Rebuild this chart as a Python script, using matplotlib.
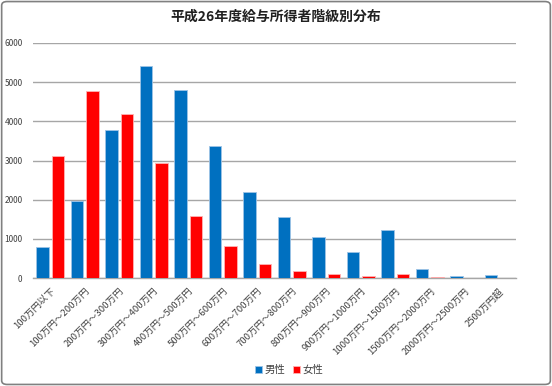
import matplotlib
matplotlib.use("Agg")
import matplotlib.pyplot as plt
import numpy as np
from matplotlib.patches import FancyBboxPatch

plt.rcParams['font.family'] = ['Noto Sans CJK JP', 'DejaVu Sans']

categories = ["100万円以下", "100万円～200万円", "200万円～300万円", "300万円～400万円",
              "400万円～500万円", "500万円～600万円", "600万円～700万円", "700万円～800万円",
              "800万円～900万円", "900万円～1000万円", "1000万円～1500万円", "1500万円～2000万円",
              "2000万円～2500万円", "2500万円超"]
male = [797, 1954, 3766, 5416, 4807, 3368, 2193, 1550, 1037, 671, 1225, 237, 51, 77]
female = [3114, 4772, 4180, 2929, 1574, 812, 355, 186, 92, 51, 92, 25, 5, 5]
yticks = [0, 1000, 2000, 3000, 4000, 5000, 6000]
title = "平成26年度給与所得者階級別分布"

fig = plt.figure(figsize=(5.52, 3.86), dpi=100)
ax = fig.add_axes([33/552, 1-278/386, (516-33)/552, (278-43)/386])

x = np.arange(len(categories))
w = 0.35
ax.bar(x - 0.05 - w/2, male, width=w, color='#0070C0', edgecolor='#9DC3E6', linewidth=0.6, label='男性', zorder=3)
ax.bar(x + 0.05 + w/2, female, width=w, color='#FF0000', edgecolor='#FFB3B3', linewidth=0.6, label='女性', zorder=3)

ax.set_xlim(-0.5, len(categories) - 0.5)
ax.set_ylim(0, 6000)
ax.set_yticks(yticks)
ax.set_yticklabels([str(v) for v in yticks], fontsize=6)
ax.yaxis.grid(True, color='#A6A6A6', linewidth=1.0, zorder=0)
ax.tick_params(axis='y', length=0, pad=7.5, colors='#404040')
ax.set_xticks(x)
ax.set_xticklabels(categories, rotation=45, ha='right', va='top', rotation_mode='anchor', fontsize=6.8, color='#404040')
ax.tick_params(axis='x', length=0, pad=6)
for s in ['top', 'right', 'left']:
    ax.spines[s].set_visible(False)
ax.spines['bottom'].set_color('#A6A6A6')
ax.spines['bottom'].set_linewidth(1.0)
ax.set_axisbelow(True)

fig.text(0.5, 1-17/386, title, ha='center', va='center', fontsize=10, fontweight='bold', color='#202020')

leg = fig.legend(loc='center', bbox_to_anchor=(289/552, 1-370/386), ncol=2, frameon=False,
                 fontsize=7.5, handlelength=0.7, handleheight=0.7, handletextpad=0.2, columnspacing=0.8)
for t in leg.get_texts():
    t.set_color('#404040')

border = FancyBboxPatch((0.003, 0.004), 0.994, 0.992, boxstyle='round,pad=0,rounding_size=0.01',
                        transform=fig.transFigure, fill=False, edgecolor='#808080', linewidth=1.2)
fig.patches.append(border)

fig.savefig('out.png', dpi=100)
